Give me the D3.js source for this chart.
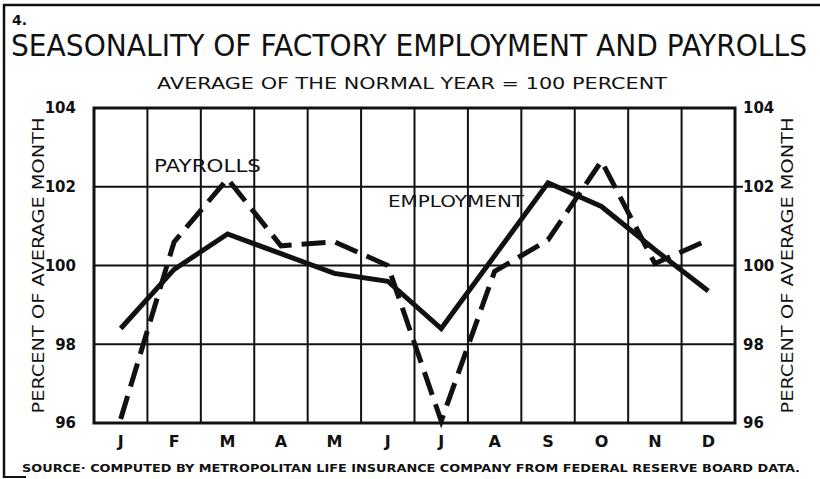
<!DOCTYPE html>
<html>
<head>
<meta charset="utf-8">
<script src="https://cdn.jsdelivr.net/npm/d3@7"></script>
<style>
  body { margin: 0; background: #fff; }
  svg { display: block; }
  text { font-family: "DejaVu Sans", sans-serif; fill: #111; }
</style>
</head>
<body>
<div id="container-svg"></div>
<script>
// Data
const months = ["J", "F", "M", "A", "M", "J", "J", "A", "S", "O", "N", "D"]
const employment = [98.4, 99.9, 100.8, 100.3, 99.8, 99.6, 98.4, 100.25, 102.1, 101.5, 100.4, 99.35]
const payrolls = [96.1, 100.6, 102.2, 100.5, 100.6, 100.0, 96.05, 99.85, 100.65, 102.65, 100.05, 100.65]
const yTicks = [96, 98, 100, 102, 104]

const W = 820, H = 479
const plot = { left: 94, right: 735, top: 108, bottom: 423 }
const INK = "#111"

const svg = d3.select("#container-svg")
    .append("svg")
    .attr("width", W)
    .attr("height", H)

const x = d3.scaleBand()
    .domain(d3.range(months.length))
    .range([plot.left, plot.right])
    .padding(0)
const cx = i => x(i) + x.bandwidth() / 2

const y = d3.scaleLinear()
    .domain([96, 104])
    .range([plot.bottom, plot.top])

// outer frame (left and top edges like the scan)
svg.append("path")
    .attr("d", `M4,478 L4,5 L${W},5`)
    .attr("fill", "none").attr("stroke", INK).attr("stroke-width", 2.5)
svg.append("line")
    .attr("x1", 4).attr("x2", 26).attr("y1", 477).attr("y2", 477)
    .attr("stroke", INK).attr("stroke-width", 2)

// titles
svg.append("text").attr("x", 12).attr("y", 25)
    .style("font-size", "14px").style("font-weight", "bold").text("4.")
svg.append("text")
    .attr("transform", "translate(11,56) scale(1,1.1)")
    .attr("textLength", 796).attr("lengthAdjust", "spacingAndGlyphs")
    .style("font-size", "27px").text("SEASONALITY OF FACTORY EMPLOYMENT AND PAYROLLS")
svg.append("text").attr("x", 157).attr("y", 89)
    .attr("textLength", 510).attr("lengthAdjust", "spacingAndGlyphs")
    .style("font-size", "16px").style("font-weight", "500").text("AVERAGE OF THE NORMAL YEAR = 100 PERCENT")

// grid
const grid = svg.append("g").attr("class", "grid")
grid.selectAll("line.h")
    .data(yTicks.slice(1, -1))
    .join("line").attr("class", "h")
    .attr("x1", plot.left).attr("x2", plot.right)
    .attr("y1", d => y(d)).attr("y2", d => y(d))
    .attr("stroke", INK).attr("stroke-width", 2)
grid.selectAll("line.v")
    .data(d3.range(1, months.length))
    .join("line").attr("class", "v")
    .attr("x1", d => x(d)).attr("x2", d => x(d))
    .attr("y1", plot.top).attr("y2", plot.bottom)
    .attr("stroke", INK).attr("stroke-width", 2)
svg.append("rect")
    .attr("x", plot.left).attr("y", plot.top)
    .attr("width", plot.right - plot.left).attr("height", plot.bottom - plot.top)
    .attr("fill", "none").attr("stroke", INK).attr("stroke-width", 3)

// axes
const leftAxis = svg.append("g")
    .attr("transform", `translate(${plot.left - 18},0)`)
    .call(d3.axisLeft(y).tickValues(yTicks).tickSize(0).tickPadding(0))
const rightAxis = svg.append("g")
    .attr("transform", `translate(${plot.right + 8},0)`)
    .call(d3.axisRight(y).tickValues(yTicks).tickSize(0).tickPadding(0))
const bottomAxis = svg.append("g")
    .attr("transform", `translate(0,${plot.bottom + 9})`)
    .call(d3.axisBottom(x).tickFormat(i => months[i]).tickSize(0).tickPadding(4))
for (const ax of [leftAxis, rightAxis, bottomAxis]) {
    ax.select(".domain").remove()
    ax.selectAll("text").style("font-family", "DejaVu Sans, sans-serif").style("fill", INK)
}
leftAxis.selectAll("text").style("font-size", "15px").style("font-weight", "bold")
rightAxis.selectAll("text").style("font-size", "15px").style("font-weight", "bold")
bottomAxis.selectAll("text").style("font-size", "16px").style("font-weight", "bold")

// right tick at 102
svg.append("line")
    .attr("x1", plot.right).attr("x2", plot.right + 8)
    .attr("y1", y(102)).attr("y2", y(102))
    .attr("stroke", INK).attr("stroke-width", 2)

// axis titles
const midY = (plot.top + plot.bottom) / 2
svg.append("text")
    .attr("transform", `translate(44,${midY}) rotate(-90)`)
    .attr("text-anchor", "middle")
    .attr("textLength", 296).attr("lengthAdjust", "spacingAndGlyphs")
    .style("font-size", "16px").style("font-weight", "500").text("PERCENT OF AVERAGE MONTH")
svg.append("text")
    .attr("transform", `translate(793,${midY}) rotate(-90)`)
    .attr("text-anchor", "middle")
    .attr("textLength", 296).attr("lengthAdjust", "spacingAndGlyphs")
    .style("font-size", "16px").style("font-weight", "500").text("PERCENT OF AVERAGE MONTH")

// series
const line = d3.line().x((d, i) => cx(i)).y(d => y(d))
svg.append("path")
    .datum(payrolls)
    .attr("d", line)
    .attr("fill", "none").attr("stroke", INK).attr("stroke-width", 5)
    .attr("stroke-dasharray", "24,10").attr("stroke-linejoin", "miter")
svg.append("path")
    .datum(employment)
    .attr("d", line)
    .attr("fill", "none").attr("stroke", INK).attr("stroke-width", 5)
    .attr("stroke-linejoin", "miter")

// series labels
svg.append("text").attr("x", 154).attr("y", 172)
    .attr("textLength", 107).attr("lengthAdjust", "spacingAndGlyphs")
    .style("font-size", "17px").text("PAYROLLS")
svg.append("text").attr("x", 388).attr("y", 207)
    .attr("textLength", 136).attr("lengthAdjust", "spacingAndGlyphs")
    .style("font-size", "16px").text("EMPLOYMENT")

// source
svg.append("text").attr("x", 22).attr("y", 472)
    .attr("textLength", 778).attr("lengthAdjust", "spacingAndGlyphs")
    .style("font-size", "10px").style("font-weight", "bold")
    .text("SOURCE·  COMPUTED BY METROPOLITAN LIFE INSURANCE COMPANY FROM FEDERAL RESERVE BOARD DATA.")
</script>
</body>
</html>
